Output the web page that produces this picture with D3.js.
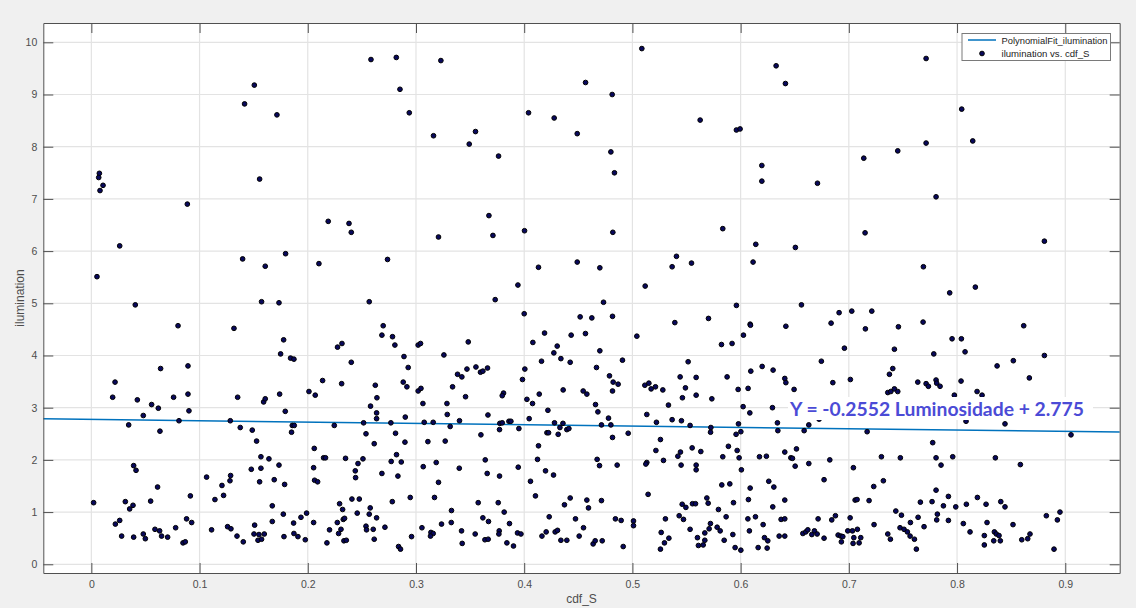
<!DOCTYPE html>
<html><head><meta charset="utf-8">
<script src="https://cdn.jsdelivr.net/npm/d3@7"></script>
<style>
html,body{margin:0;padding:0;background:#f0f0f0;}
svg{display:block;}
</style></head>
<body>
<svg id="chart" width="1136" height="608"></svg>
<script>
// ---- data ----
const cdfS = [
0.1506,0.1416,0.1715,0.0074,0.0068,0.0108,0.0080,0.1555,0.0887,0.0262,0.1795,0.1398,0.1607,0.0052,0.0406,0.1573,0.1734,
0.2584,0.2818,0.3230,0.2852,0.2938,0.3162,0.3550,0.3492,0.3763,0.4040,0.4277,0.4490,0.2189,0.2381,0.2402,0.3674,0.3208,0.3711,0.4003,0.2103,0.2737,0.4132,0.4490,0.2568,0.3942,0.3732,0.4000,
0.5087,0.4567,0.4813,0.6328,0.6414,0.5626,0.5961,0.5995,0.4801,0.4834,0.6196,0.6196,0.6710,0.4819,0.5835,0.6140,0.6506,0.4699,0.5407,0.5367,0.5546,0.6115,0.5118,0.4733,0.5961,0.6562,0.4517,0.4625,0.4816,0.5392,0.5703,0.6088,0.6836,0.6910,
0.7714,0.8043,0.8145,0.7714,0.7452,0.7138,0.7806,0.7150,0.8807,0.7689,0.7932,0.8169,0.7027,0.7212,0.7686,
// lower left
0.0801,0.1318,0.0219,0.0197,0.0640,0.0893,0.0893,0.0425,0.0557,0.0619,0.0760,0.1352,0.0480,0.0902,0.0810,0.1284,0.0345,0.0634,0.1376,0.1487,
0.0391,0.0413,0.1478,0.1065,0.1287,0.1281,0.1207,0.1222,0.0612,0.0915,0.1142,0.0021,0.0314,0.0548,0.0385,0.0354,0.0262,0.0222,0.0880,0.0927,
0.0588,0.0631,0.0779,0.1111,0.1259,0.1290,0.0480,0.0499,0.0280,0.0391,0.0649,0.0705,0.1346,0.0847,0.0868,0.1404,0.1503,0.1509,
// lower 0.15-0.35
0.1777,0.1749,0.1841,0.1872,0.1740,0.1592,0.1607,0.1792,0.1857,0.1875,0.1850,0.1527,0.1567,0.1641,0.1567,0.1734,0.1555,0.1690,0.1786,0.1672,
0.1774,0.1672,0.1549,0.1598,0.1540,0.1573,0.1780,0.1869,0.1937,0.1989,0.1872,0.1909,0.1977,0.2011,0.2069,0.2137,0.2275,0.2316,0.2402,0.2313,
0.2245,0.2060,0.2146,0.2164,0.2054,0.2349,0.2063,0.2091,0.2054,0.2177,0.2201,0.2273,0.2294,0.2322,0.2328,0.2340,0.2307,0.2285,0.2334,0.2356,
0.2408,0.2476,0.2457,0.2464,0.2510,0.2439,0.2442,0.2516,0.2538,0.2614,0.2580,0.2639,0.2624,0.2636,0.2636,0.2685,0.2697,0.2783,0.2805,0.2889,
0.2928,0.2882,0.2916,0.2768,0.2811,0.2901,0.2898,0.2820,0.2771,0.2864,0.2685,0.2833,0.2781,0.2947,0.2577,0.2568,0.2636,0.2538,0.2543,0.2605,
0.2614,0.2713,0.2839,0.2857,0.2959,0.3020,0.3042,0.3258,0.3483,0.3020,0.3046,0.3384,0.3424,0.3471,0.3338,0.3458,0.3064,0.3286,0.3289,0.3076,
0.3159,0.3402,0.3316,0.3110,0.3270,0.3067,0.3187,0.3400,0.3208,0.3171,0.3328,0.3326,0.3236,0.3055,0.3138,0.3159,0.3134,0.3421,0.3427,
// lower 0.35-0.55
0.4188,0.4434,0.4566,0.5041,0.4080,0.4305,0.4274,0.4339,0.4160,0.4425,0.4699,0.4908,0.4668,0.3554,0.3596,0.3618,0.3661,0.4006,0.3984,0.4788,
0.4822,0.4868,0.4816,0.4545,0.4579,0.4360,0.4139,0.3809,0.3797,0.4025,0.4077,0.4659,0.4219,0.4681,0.3665,0.4046,0.4779,0.3775,0.3797,0.3859,
0.3877,0.4280,0.4358,0.4330,0.4394,0.4413,0.4714,0.4801,0.3772,0.3951,0.3600,0.4210,0.4225,0.4314,0.4816,0.4961,0.4132,0.4123,0.3640,0.3658,
0.3772,0.3945,0.4197,0.4271,0.4058,0.4674,0.4696,0.4859,0.3575,0.3760,0.4104,0.4425,0.4372,0.4579,0.4594,0.4714,0.3618,0.3670,0.3815,0.3864,
0.4231,0.4474,0.4548,0.4843,0.4896,0.5010,0.5010,0.3547,0.3637,0.3667,0.3769,0.3766,0.3840,0.3901,0.3938,0.3970,0.4164,0.4203,0.4286,0.4308,
0.4339,0.4394,0.4508,0.4637,0.4656,0.4721,0.4915,0.5133,0.5115,0.5152,0.5173,0.5213,0.5281,0.5441,0.5490,0.5462,0.5515,0.5333,0.5222,0.5367,
0.5453,0.5533,0.5259,0.5217,0.5444,0.5420,0.5287,0.5133,0.5124,0.5450,0.5145,0.5460,0.5494,0.5305,0.5432,0.5472,0.5533,0.5266,0.5337,0.5296,0.5259,
// lower 0.55-0.76
0.6026,0.5823,0.5921,0.6091,0.6418,0.7153,0.7458,0.6959,0.7421,0.6746,0.6199,0.6094,0.6300,0.7406,0.7375,0.5589,0.5875,0.6408,0.6418,0.6852,
0.7014,0.5977,0.6069,0.6494,0.5589,0.5734,0.7360,0.7388,0.7421,0.7452,0.6023,0.6085,0.6294,0.5725,0.5722,0.5980,0.5958,0.6002,0.6340,0.6344,
0.6587,0.6630,0.6725,0.7169,0.5552,0.5632,0.5887,0.5835,0.5968,0.5986,0.6174,0.6238,0.6408,0.6516,0.6464,0.6479,0.7301,0.7476,0.5589,0.5589,
0.6007,0.6504,0.6630,0.6824,0.7042,0.5826,0.5900,0.6260,0.6307,0.6088,0.6771,0.7319,0.7230,0.5555,0.5583,0.5688,0.5700,0.5934,0.5795,0.6072,
0.6297,0.6408,0.7058,0.7076,0.7187,0.5866,0.6067,0.6137,0.6208,0.6374,0.6408,0.6716,0.6842,0.6876,0.7012,0.7233,0.7434,0.7486,0.5601,0.5669,
0.5610,0.5654,0.5669,0.5709,0.5721,0.5783,0.5811,0.5848,0.5928,0.5949,0.6002,0.6081,0.6162,0.6220,0.6245,0.6251,0.6356,0.6408,0.6575,0.6602,
0.6621,0.6658,0.6682,0.6707,0.6771,0.6901,0.6926,0.6944,0.6931,0.6990,0.7033,0.7046,0.7039,0.7079,0.7110,0.7095,0.7360,0.7384,0.7473,0.7510,0.7541,
// lower right
0.8616,0.7954,0.8040,0.7785,0.8074,0.8807,0.8520,0.8370,0.8668,0.7637,0.7714,0.7735,0.7806,0.7812,0.7843,0.8037,0.7975,0.8185,0.8231,0.8083,
0.8443,0.9053,0.7775,0.7806,0.7852,0.7960,0.8354,0.8585,0.7806,0.7661,0.7769,0.7874,0.7920,0.7988,0.8086,0.8188,0.8268,0.8404,0.8443,0.7818,
0.7812,0.7640,0.7920,0.7569,0.7695,0.7566,0.7606,0.7624,0.8058,0.8120,0.8277,0.8252,0.8252,0.8345,0.8363,0.8388,0.8339,0.8400,0.8517,0.8598,
0.8653,0.8674,0.8825,0.8927,0.8951,0.8896
];
const ilumination = [
9.18,8.82,8.61,7.49,7.41,7.26,7.16,7.38,6.90,6.10,5.95,5.85,5.71,5.51,4.97,5.03,5.01,
9.67,9.71,9.65,9.10,8.65,8.21,8.29,8.05,7.82,8.65,8.55,8.25,6.57,6.53,6.36,6.68,6.27,6.30,6.39,5.76,5.84,5.69,5.79,5.03,5.35,5.07,4.80,
9.88,9.23,9.00,9.55,9.21,8.51,8.32,8.34,7.90,7.50,7.64,7.34,7.30,6.36,6.43,6.13,6.07,5.68,5.90,5.70,5.77,5.79,5.33,5.02,4.96,4.97,4.74,4.72,4.75,4.63,4.71,4.60,4.62,4.82,
9.69,8.72,8.11,8.07,7.92,7.78,7.04,6.35,6.19,5.70,5.20,5.31,4.85,4.85,4.64,
// lower left
4.57,4.52,3.49,3.20,3.75,3.80,3.26,3.15,3.06,2.99,3.20,3.20,2.85,2.94,2.75,2.75,2.67,2.55,2.62,2.57,
1.89,1.80,1.82,1.67,1.70,1.60,1.51,1.32,1.48,1.31,1.24,1.18,1.20,1.21,1.13,1.06,0.84,0.77,0.87,0.80,
0.67,0.64,0.70,0.66,0.72,0.68,0.58,0.49,0.54,0.52,0.54,0.52,0.54,0.41,0.43,0.43,0.58,0.75,
// lower 0.15-0.35
4.30,4.03,3.95,3.93,3.26,3.11,3.17,2.93,2.66,2.66,2.53,2.36,2.06,2.02,1.84,1.90,1.58,1.62,1.53,1.12,
0.96,0.82,0.57,0.58,0.46,0.48,0.53,0.79,0.90,0.98,0.59,0.53,0.47,3.31,3.24,3.52,4.16,4.23,3.87,3.46,
2.66,2.22,2.04,2.04,1.85,2.03,1.61,1.58,0.80,0.41,0.66,0.80,1.16,1.05,0.86,0.88,0.67,0.59,0.45,0.46,
1.25,1.25,0.98,1.93,2.02,1.79,1.66,2.71,2.50,2.31,3.03,3.19,3.43,2.90,2.79,4.39,4.57,4.36,4.20,3.98,
3.77,3.49,3.40,2.71,2.51,2.82,2.34,2.10,1.97,1.96,1.74,1.69,1.20,1.28,1.08,0.96,0.89,0.73,0.66,0.67,
0.48,0.71,0.34,0.29,0.53,4.20,4.23,4.01,4.26,3.32,3.37,3.64,3.59,3.74,3.40,3.21,3.08,3.08,2.87,2.72,
2.72,2.75,2.64,2.35,2.36,1.87,1.95,1.84,1.57,1.28,1.03,0.80,0.77,0.70,0.61,0.59,0.54,0.64,0.40,
// lower 0.35-0.55
4.43,4.39,4.42,4.37,4.25,4.18,4.05,3.94,3.89,3.87,4.09,3.91,3.77,3.78,3.68,3.70,3.76,3.74,3.54,3.61,
3.49,3.45,3.32,3.32,3.26,3.34,3.26,3.28,3.23,3.16,3.08,3.06,2.95,2.92,2.86,2.79,2.80,2.70,2.71,2.74,
2.74,2.71,2.70,2.62,2.58,2.60,2.67,2.67,2.58,2.60,2.48,2.52,2.52,2.49,2.43,2.51,2.27,2.01,2.00,1.74,
1.69,1.86,1.79,1.71,1.59,2.01,1.89,1.90,1.18,1.18,1.31,1.27,1.14,1.23,1.08,1.22,0.89,0.82,1.00,0.78,
0.91,0.87,0.70,0.87,0.84,0.83,0.74,0.58,0.47,0.48,0.64,0.58,0.41,0.35,0.60,0.58,0.54,0.62,0.62,0.65,
0.46,0.46,0.54,0.39,0.45,0.45,0.34,2.87,3.43,3.47,3.36,3.40,3.34,3.59,3.38,3.19,3.88,3.05,2.72,2.77,
2.75,2.66,2.39,2.18,2.15,2.07,1.99,1.95,1.92,1.90,1.34,1.15,1.09,0.87,0.93,0.86,0.67,0.61,0.50,0.41,0.29,
// lower 0.55-0.76
4.39,4.21,4.23,4.58,4.56,4.51,4.55,4.14,4.12,3.89,3.79,3.70,3.72,3.75,3.64,3.58,3.59,3.56,3.48,3.48,
3.54,3.35,3.37,3.35,3.24,3.17,3.29,3.31,3.36,3.31,3.02,2.90,3.00,2.62,2.53,2.69,2.49,2.54,2.71,2.56,
2.56,2.67,2.78,2.54,2.23,2.16,2.26,2.06,2.18,2.04,2.06,2.07,2.15,2.21,2.04,2.03,2.06,2.04,1.90,1.81,
1.81,1.88,1.93,2.00,1.85,1.52,1.54,1.59,1.48,1.46,1.62,1.60,1.49,1.16,1.16,1.27,1.17,1.18,1.05,1.24,
1.10,1.23,1.23,1.24,1.22,0.91,0.87,0.91,0.76,0.86,0.87,0.87,0.85,0.93,0.89,0.76,1.02,0.94,0.51,0.46,
0.36,0.37,0.60,0.68,0.78,0.71,0.64,0.46,0.57,0.32,0.27,0.64,0.32,0.51,0.31,0.45,0.54,0.54,0.59,0.62,
0.66,0.57,0.64,0.58,0.50,0.56,0.54,0.53,0.43,0.64,0.64,0.51,0.40,0.67,0.51,0.41,0.58,0.48,0.70,0.67,0.62,
// lower right
4.57,4.32,4.32,4.03,4.07,4.00,3.90,3.80,3.57,3.49,3.46,3.41,3.53,3.47,3.41,3.51,3.24,3.31,3.24,2.74,
2.69,2.48,2.33,2.04,1.90,2.06,2.04,1.91,1.42,1.19,1.20,1.12,1.30,1.10,1.15,1.28,1.15,1.20,1.10,0.96,
0.85,0.90,0.84,0.80,0.72,0.54,0.48,0.29,0.78,0.62,0.80,0.55,0.37,0.62,0.58,0.55,0.45,0.45,0.76,0.47,
0.49,0.58,0.93,0.85,1.00,0.29
];
const xTicks = [0,0.1,0.2,0.3,0.4,0.5,0.6,0.7,0.8,0.9];
const xTickLabels = ["0","0.1","0.2","0.3","0.4","0.5","0.6","0.7","0.8","0.9"];
const yTicks = [0,1,2,3,4,5,6,7,8,9,10];
const yTickLabels = ["0","1","2","3","4","5","6","7","8","9","10"];
const fitX = [-0.0444, 0.9503];
const fitY = [2.786, 2.532];
const legendLabels = ["PolynomialFit_ilumination","ilumination vs. cdf_S"];
const equationText = "Y = -0.2552 Luminosidade + 2.775";

// ---- layout ----
const L=43.3, R=1119.7, T=23, B=573;
const svg = d3.select("#chart");
const x = d3.scaleLinear().domain([-0.0444, 0.9503]).range([L, R]);
const y = d3.scaleLinear().domain([-0.167, 10.37]).range([B, T]);

svg.append("rect").attr("width",1136).attr("height",608).attr("fill","#f0f0f0");
svg.append("rect").attr("x",L).attr("y",T).attr("width",R-L).attr("height",B-T).attr("fill","#fff");

// grid
const grid = svg.append("g").attr("stroke","#e3e3e3").attr("stroke-width",1.2);
grid.selectAll("line.gx").data(xTicks).join("line")
  .attr("x1",d=>x(d)).attr("x2",d=>x(d)).attr("y1",T).attr("y2",B);
grid.selectAll("line.gy").data(yTicks).join("line")
  .attr("y1",d=>y(d)).attr("y2",d=>y(d)).attr("x1",L).attr("x2",R);

// fit line
svg.append("line")
  .attr("x1",x(fitX[0])).attr("y1",y(fitY[0]))
  .attr("x2",x(fitX[1])).attr("y2",y(fitY[1]))
  .attr("stroke","#0072BD").attr("stroke-width",1.5);

// points
const pts = cdfS.map((v,i)=>[v, ilumination[i]]);
svg.append("g").selectAll("circle").data(pts).join("circle")
  .attr("cx",d=>x(d[0])).attr("cy",d=>y(d[1])).attr("r",2.35)
  .attr("fill","#08085c").attr("stroke","#000").attr("stroke-width",1);

// axes (MATLAB style, inward ticks, box)
const axCol = "#505050";
const tl = 10;
const ax = svg.append("g").attr("font-family","'Liberation Sans', Arial, sans-serif").attr("font-size",10);
const xb = d3.axisBottom(x).tickValues(xTicks).tickFormat((d,i)=>xTickLabels[i]).tickSizeInner(-tl).tickSizeOuter(0).tickPadding(8);
const xt = d3.axisTop(x).tickValues(xTicks).tickFormat("").tickSizeInner(-tl).tickSizeOuter(0);
const yl = d3.axisLeft(y).tickValues(yTicks).tickFormat((d,i)=>yTickLabels[i]).tickSizeInner(-tl).tickSizeOuter(0).tickPadding(6);
const yr = d3.axisRight(y).tickValues(yTicks).tickFormat("").tickSizeInner(-tl).tickSizeOuter(0);
function style(g){
  g.select(".domain").attr("stroke",axCol);
  g.selectAll(".tick line").attr("stroke",axCol);
  g.selectAll(".tick text").attr("fill","#4d4d4d").attr("font-size",10.5).attr("font-family","'Liberation Sans', Arial, sans-serif");
}
ax.append("g").attr("transform",`translate(0,${B})`).call(xb).call(style);
ax.append("g").attr("transform",`translate(0,${T})`).call(xt).call(style);
ax.append("g").attr("transform",`translate(${L},0)`).call(yl).call(style);
ax.append("g").attr("transform",`translate(${R},0)`).call(yr).call(style);

// axis labels
svg.append("text").attr("x",(L+R)/2).attr("y",603).attr("text-anchor","middle")
  .attr("font-family","'Liberation Sans', Arial, sans-serif").attr("font-size",12).attr("fill","#4d4d4d").text("cdf_S");
svg.append("text").attr("transform",`translate(24,${(T+B)/2}) rotate(-90)`).attr("text-anchor","middle")
  .attr("font-family","'Liberation Sans', Arial, sans-serif").attr("font-size",12).attr("fill","#4d4d4d").text("ilumination");

// equation annotation
const eqG = svg.append("g");
eqG.append("rect").attr("x",788).attr("y",397).attr("width",305).attr("height",23).attr("fill","#fff");
eqG.append("text").attr("x",790).attr("y",415.5)
  .attr("font-family","Lato, 'Open Sans', sans-serif").attr("font-weight","bold").attr("font-size",18)
  .attr("fill","#4b4bd6").attr("textLength",294).attr("lengthAdjust","spacingAndGlyphs").text(equationText);

// legend
const lg = svg.append("g").attr("font-family","'Liberation Sans', Arial, sans-serif").attr("font-size",9.5).attr("fill","#222");
lg.append("rect").attr("x",962).attr("y",33.5).attr("width",148.5).attr("height",27).attr("fill","#fff").attr("stroke","#7a7a7a").attr("stroke-width",1);
lg.append("line").attr("x1",968).attr("x2",996).attr("y1",40).attr("y2",40).attr("stroke","#0072BD").attr("stroke-width",1.5);
lg.append("circle").attr("cx",982).attr("cy",53.5).attr("r",2.35).attr("fill","#08085c").attr("stroke","#000");
lg.selectAll("text").data(legendLabels).join("text")
  .attr("x",1001.5).attr("y",(d,i)=>43.5+i*13).attr("textLength",(d,i)=>i===0?106:88).attr("lengthAdjust","spacingAndGlyphs").text(d=>d);
</script>
</body></html>
